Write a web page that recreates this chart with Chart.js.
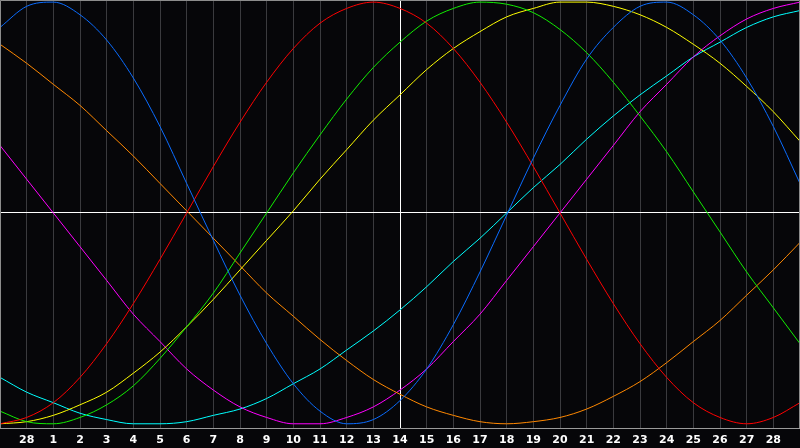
<!DOCTYPE html>
<html>
<head>
<meta charset="utf-8">
<script src="https://cdn.jsdelivr.net/npm/chart.js@4"></script>
<style>
  html, body { margin: 0; padding: 0; background: #060609; }
  canvas { display: block; background: #060609; }
</style>
</head>
<body>
<canvas id="myChart" width="800" height="448"></canvas>
<script>
// day slots 0..30, slot 15 is today (the "14")
const days = [0, 1, 2, 3, 4, 5, 6, 7, 8, 9, 10, 11, 12, 13, 14, 15, 16, 17, 18, 19, 20, 21, 22, 23, 24, 25, 26, 27, 28, 29, 30];
const tickLabels = ["28", "1", "2", "3", "4", "5", "6", "7", "8", "9", "10", "11", "12", "13", "14",
  "15", "16", "17", "18", "19", "20", "21", "22", "23", "24", "25", "26", "27", "28"];
const today = 15;

// values, -100..100
const blue = [88, 98, 100, 94, 82, 64, 41, 14, -13, -39, -62, -81, -94, -100, -98, -89, -74, -53, -28, -1, 26, 51, 73, 88, 98, 100, 94, 82, 64, 41, 14];
const red = [-100, -97, -90, -78, -62, -43, -22, 0, 22, 43, 62, 78, 90, 97, 100, 97, 90, 78, 62, 43, 22, 0, -22, -43, -62, -78, -90, -97, -100, -97, -90];
const green = [-94, -99, -100, -97, -91, -82, -69, -54, -38, -19, 0, 19, 37, 54, 69, 81, 91, 97, 100, 99, 95, 87, 76, 62, 46, 29, 10, -9, -28, -45, -62];
const magenta = [32, 16, 0, -16, -32, -48, -61, -74, -84, -92, -97, -100, -100, -97, -92, -84, -74, -61, -48, -32, -16, 0, 16, 32, 48, 61, 74, 84, 92, 97, 100];
const yellow = [-100, -99, -96, -91, -85, -76, -66, -54, -41, -27, -13, 1, 16, 30, 44, 56, 68, 78, 86, 93, 97, 100, 100, 98, 94, 88, 80, 71, 60, 48, 34];
const orange = [80, 71, 61, 51, 39, 27, 14, 1, -12, -25, -38, -49, -60, -70, -79, -86, -92, -96, -99, -100, -99, -97, -93, -87, -80, -71, -61, -51, -39, -27, -14];
const cyan = [-78, -85, -90, -95, -98, -100, -100, -99, -96, -93, -88, -81, -74, -65, -56, -46, -35, -23, -12, 0, 12, 23, 35, 46, 56, 65, 74, 81, 88, 93, 96];

function series(vals, color) {
  return {
    data: vals.map((v, i) => ({ x: days[i], y: v })),
    borderColor: color,
    borderWidth: 1,
    pointRadius: 0,
    cubicInterpolationMode: "monotone",
    fill: false,
  };
}

// gray frame around the plot
const frame = {
  id: "frame",
  afterDraw(chart) {
    const { ctx, chartArea: a } = chart;
    ctx.save();
    ctx.strokeStyle = "#8c8c8c";
    ctx.lineWidth = 1;
    ctx.beginPath();
    ctx.moveTo(0.5, a.bottom);
    ctx.lineTo(0.5, 0.5);
    ctx.lineTo(799.5, 0.5);
    ctx.lineTo(799.5, a.bottom);
    ctx.stroke();
    ctx.restore();
  },
};

const config = {
  type: "line",
  data: {
    datasets: [
      series(blue, "#0a6cff"),
      series(red, "#ff0000"),
      series(green, "#11ee00"),
      series(yellow, "#ffff00"),
      series(orange, "#ff8800"),
      series(magenta, "#ff00ff"),
      series(cyan, "#00ffff"),
    ],
  },
  options: {
    responsive: false,
    animation: false,
    devicePixelRatio: 1,
    layout: { padding: 0 },
    plugins: { legend: { display: false }, tooltip: { enabled: false } },
    scales: {
      x: {
        type: "linear",
        min: 0,
        max: 30,
        afterFit: (s) => {
          s.height = 20;
          s.paddingLeft = 0;
          s.paddingRight = 0;
        },
        ticks: {
          stepSize: 1,
          autoSkip: false,
          maxRotation: 0,
          padding: 6,
          color: "#ffffff",
          font: { family: "DejaVu Sans", size: 11, weight: "bold" },
          callback: (v) => tickLabels[v - 1] || "",
        },
        grid: {
          drawTicks: false,
          color: (c) => (c.tick && c.tick.value === today ? "#ffffff" : "#3a3a3e"),
        },
        border: { color: "#9a9a9a" },
      },
      y: {
        min: -102,
        max: 101,
        afterFit: (s) => {
          s.width = 0;
          s.paddingTop = 0;
          s.paddingBottom = 0;
        },
        afterBuildTicks: (s) => { s.ticks = [{ value: 0 }]; },
        ticks: { display: false },
        grid: { drawTicks: false, color: "#ffffff" },
        border: { display: false },
      },
    },
  },
  plugins: [frame],
};

const myChart = new Chart(document.getElementById("myChart"), config);
</script>
</body>
</html>
